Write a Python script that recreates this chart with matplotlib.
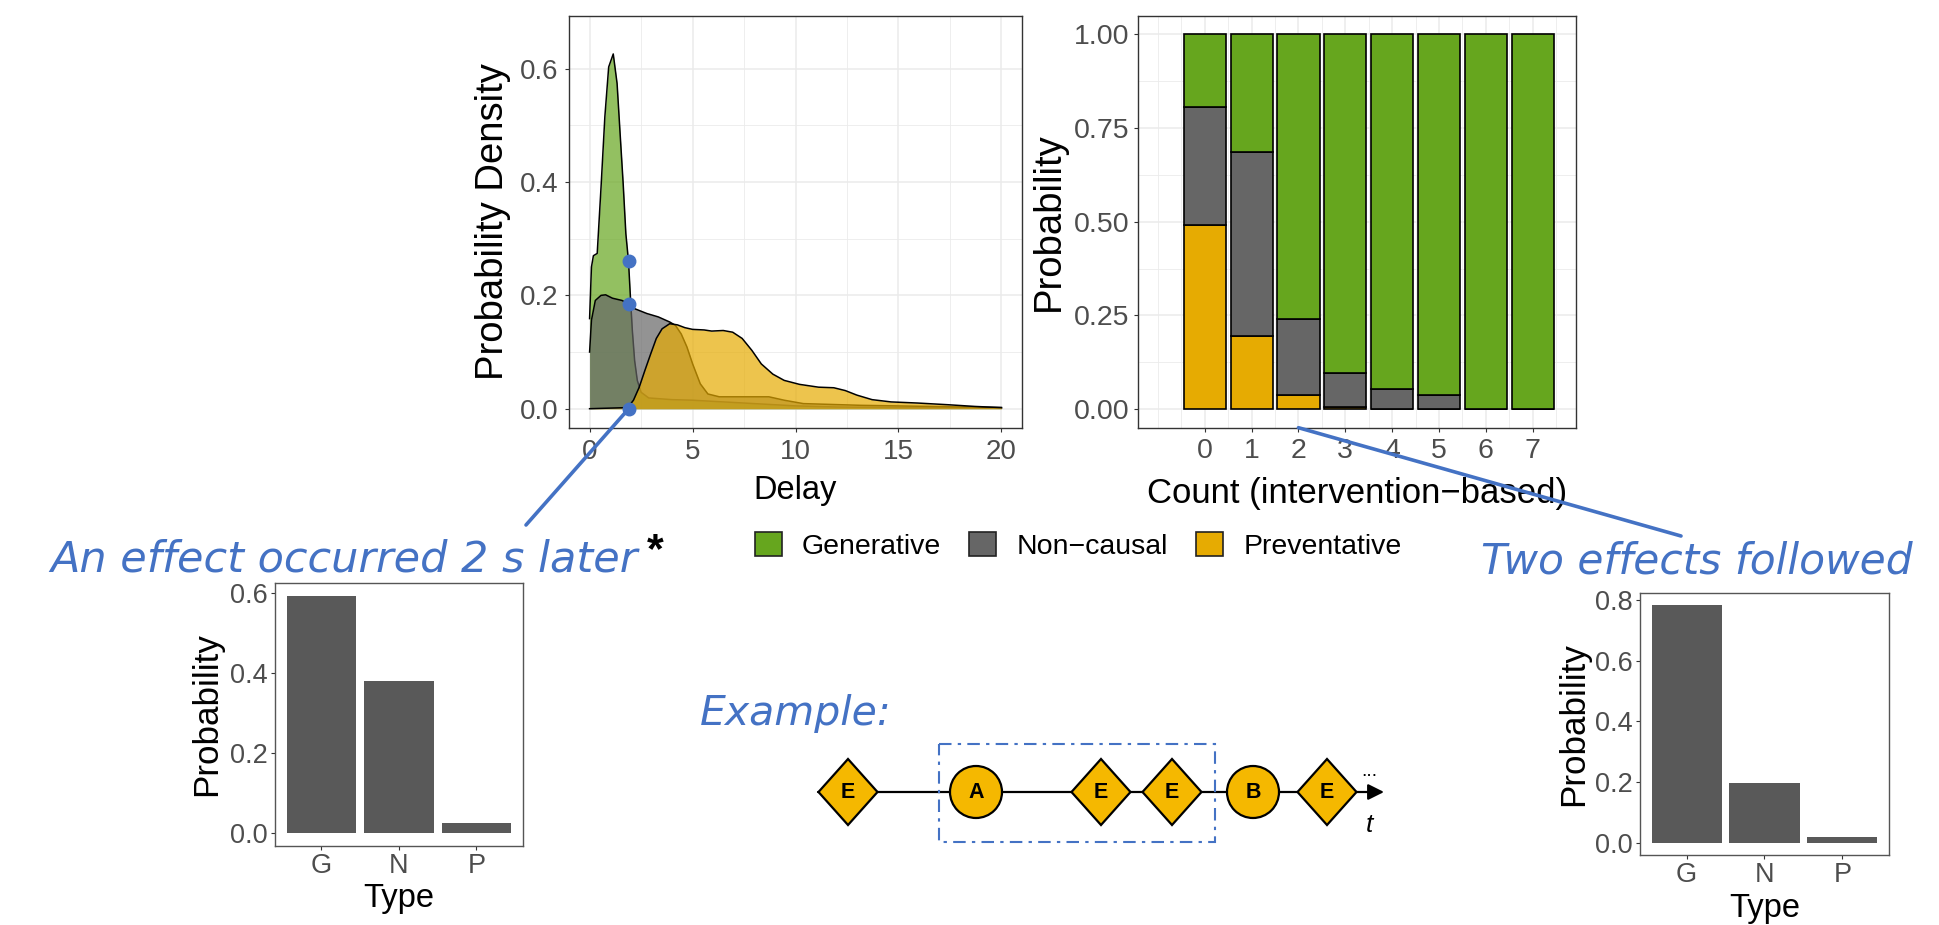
import matplotlib.pyplot as plt
from matplotlib.patches import ConnectionPatch, Polygon, Circle, Rectangle, Patch

W, H = 1940, 925

# ---- data ----
# density of delays (s) per causal type
GEN_X = [0.0, 0.09, 0.185, 0.37, 0.556, 0.741, 0.927, 1.149, 1.335, 1.483, 1.631, 1.761, 1.89,
         1.983, 2.076, 2.187, 2.317, 2.502, 2.873, 4.0, 5.0, 6.0, 7.0, 8.0, 9.0, 10.0, 12.0, 15.0, 20.0]
GEN_Y = [0.159, 0.25, 0.27, 0.274, 0.391, 0.515, 0.603, 0.626, 0.574, 0.485, 0.397, 0.309, 0.26,
         0.197, 0.138, 0.085, 0.05, 0.029, 0.019, 0.016, 0.015, 0.013, 0.011, 0.009, 0.007, 0.005, 0.003, 0.002, 0.001]

NON_X = [0.0, 0.09, 0.278, 0.556, 0.778, 1.112, 1.576, 1.89, 2.224, 2.78, 3.336, 3.892, 4.17, 4.449,
         4.727, 5.005, 5.375, 5.746, 6.3, 7.6, 8.71, 9.45, 10.38, 13.16, 20.0]
NON_Y = [0.1, 0.156, 0.191, 0.2, 0.201, 0.195, 0.191, 0.185, 0.176, 0.168, 0.162, 0.153, 0.147, 0.132,
         0.109, 0.079, 0.044, 0.026, 0.021, 0.021, 0.021, 0.015, 0.009, 0.006, 0.002]

PRE_X = [0.0, 1.85, 2.13, 2.41, 2.69, 2.97, 3.24, 3.52, 3.89, 4.26, 4.63, 5.0, 5.56, 5.93, 6.49, 6.95,
         7.41, 7.88, 8.34, 8.9, 9.45, 10.19, 11.12, 11.86, 12.42, 12.98, 13.72, 14.64, 15.94, 17.42, 18.72, 20.0]
PRE_Y = [0.0, 0.002, 0.015, 0.038, 0.068, 0.097, 0.124, 0.141, 0.15, 0.148, 0.143, 0.14, 0.139, 0.137, 0.138, 0.135,
         0.124, 0.103, 0.079, 0.061, 0.05, 0.043, 0.038, 0.037, 0.032, 0.024, 0.016, 0.012, 0.010, 0.007, 0.004, 0.002]

# the three read-off points at a delay of ~2 s
POINT_X = [1.9, 1.9, 1.9]
POINT_Y = [0.26, 0.185, 0.0]

# stacked probabilities per count
COUNTS = [0, 1, 2, 3, 4, 5, 6, 7]
PROB_PRE = [0.49, 0.195, 0.038, 0.004, 0.0, 0.0, 0.0, 0.0]
PROB_NON = [0.317, 0.49, 0.201, 0.091, 0.053, 0.038, 0.0, 0.0]
PROB_GEN = [0.193, 0.315, 0.761, 0.905, 0.947, 0.962, 1.0, 1.0]

# small posterior panels
TYPES = ["G", "N", "P"]
PROB_DELAY = [0.592, 0.379, 0.025]
PROB_COUNT = [0.782, 0.198, 0.018]

# example sequence
EVENT_LABELS = ["E", "A", "E", "E", "B", "E"]
EVENT_X = [848, 976, 1101, 1172, 1253, 1327]

GREEN, GREY, GOLD = "#66A61E", "#666666", "#E6AB02"
BLUE = "#4472C4"
EVENT_FILL = "#F5B800"
TICK_COL = "#4D4D4D"

plt.rcParams["font.family"] = ["Liberation Sans", "DejaVu Sans"]


def rect(left, top, right, bottom):
    return [left / W, 1 - bottom / H, (right - left) / W, (bottom - top) / H]


def gg_axes(ax, grid=True, border="#333333", pad_x=5, pad_y=4, size=20):
    for s in ax.spines.values():
        s.set_color(border)
        s.set_linewidth(1.0)
    ax.tick_params(which="major", length=2.9, width=0.8, color="#333333",
                   labelcolor=TICK_COL, labelsize=size)
    ax.tick_params(axis="x", pad=pad_x)
    ax.tick_params(axis="y", pad=pad_y)
    ax.tick_params(which="minor", length=0)
    if grid:
        ax.grid(True, which="major", color="#EBEBEB", linewidth=1.1)
        ax.grid(True, which="minor", color="#EBEBEB", linewidth=0.6)
    ax.set_axisbelow(True)


fig = plt.figure(figsize=(W / 100, H / 100), dpi=100)

# ---- density panel ----
ax_d = fig.add_axes(rect(569, 15.7, 1022, 427.7))
for xs, ys, col, z in [(GEN_X, GEN_Y, GREEN, 2), (NON_X, NON_Y, GREY, 3), (PRE_X, PRE_Y, GOLD, 4)]:
    ax_d.fill_between(xs, 0, ys, color=col, alpha=0.7, linewidth=0, zorder=z)
    ax_d.plot(xs, ys, color="black", linewidth=1.1, zorder=z + 0.1)
ax_d.plot(POINT_X, POINT_Y, "o", color=BLUE, markersize=9, zorder=10, clip_on=False)
ax_d.set_xlim(-1, 21)
ax_d.set_ylim(-0.0335, 0.6935)
ax_d.set_xticks([0, 5, 10, 15, 20])
ax_d.set_xticks([2.5, 7.5, 12.5, 17.5], minor=True)
ax_d.set_yticks([0, 0.2, 0.4, 0.6])
ax_d.set_yticklabels(["0.0", "0.2", "0.4", "0.6"])
ax_d.set_yticks([0.1, 0.3, 0.5], minor=True)
gg_axes(ax_d, pad_x=5, pad_y=4.5, size=20)
ax_d.set_xlabel("Delay", fontsize=23.5)
ax_d.set_ylabel("Probability Density", fontsize=27.5)
ax_d.xaxis.set_label_coords(0.5, -0.115)
ax_d.yaxis.set_label_coords(-0.128, 0.5)

# ---- stacked bar panel ----
ax_b = fig.add_axes(rect(1138, 15.7, 1576, 427.7))
bar_kw = dict(width=0.9, edgecolor="black", linewidth=1.2, zorder=3)
ax_b.bar(COUNTS, PROB_PRE, color=GOLD, **bar_kw)
ax_b.bar(COUNTS, PROB_NON, bottom=PROB_PRE, color=GREY, **bar_kw)
ax_b.bar(COUNTS, PROB_GEN, bottom=[p + n for p, n in zip(PROB_PRE, PROB_NON)], color=GREEN, **bar_kw)
ax_b.set_xlim(-1.425, 7.925)
ax_b.set_ylim(-0.05, 1.05)
ax_b.set_xticks(COUNTS)
ax_b.set_xticks([-1, -0.5, 0.5, 1.5, 2.5, 3.5, 4.5, 5.5, 6.5, 7.5], minor=True)
ax_b.set_yticks([0, 0.25, 0.5, 0.75, 1.0])
ax_b.set_yticklabels(["0.00", "0.25", "0.50", "0.75", "1.00"])
ax_b.set_yticks([0.125, 0.375, 0.625, 0.875], minor=True)
gg_axes(ax_b, pad_x=4.5, pad_y=3, size=20.5)
ax_b.set_xlabel("Count (intervention\u2212based)", fontsize=25)
ax_b.set_ylabel("Probability", fontsize=27.5)
ax_b.xaxis.set_label_coords(0.5, -0.119)
ax_b.yaxis.set_label_coords(-0.162, 0.5)

# ---- small posterior panels ----
for box, vals, ylim, yt, lab_x, lab_y in [
        ((275, 583, 523, 846), PROB_DELAY, (-0.0325, 0.625), [0, 0.2, 0.4, 0.6], -0.21, -0.141),
        ((1640, 593, 1889, 855), PROB_COUNT, (-0.04, 0.823), [0, 0.2, 0.4, 0.6, 0.8], -0.20, -0.145)]:
    ax_s = fig.add_axes(rect(*box))
    ax_s.bar(TYPES, vals, width=0.9, color="#595959", zorder=3)
    ax_s.set_xlim(0.4 - 1, 3.6 - 1)
    ax_s.set_ylim(*ylim)
    ax_s.set_yticks(yt)
    ax_s.set_yticklabels([f"{v:.1f}" for v in yt])
    gg_axes(ax_s, grid=False, border="#555555", pad_x=2, pad_y=2.2, size=19.5)
    ax_s.set_xlabel("Type", fontsize=23.5)
    ax_s.set_ylabel("Probability", fontsize=25.2)
    ax_s.xaxis.set_label_coords(0.5, lab_y)
    ax_s.yaxis.set_label_coords(lab_x, 0.5)

# ---- legend ----
handles = [Patch(facecolor=c, edgecolor="#222222", linewidth=1.2, label=l)
           for c, l in [(GREEN, "Generative"), (GREY, "Non\u2212causal"), (GOLD, "Preventative")]]
fig.legend(handles=handles, loc="center", bbox_to_anchor=(1078 / W, 1 - 546 / H), ncol=3,
           frameon=False, fontsize=20.5, handlelength=0.95, handleheight=0.91,
           handletextpad=0.7, columnspacing=1.0, borderpad=0, borderaxespad=0)

# ---- overlay for annotations and the example sequence (pixel coordinates) ----
ov = fig.add_axes([0, 0, 1, 1])
ov.set_xlim(0, W)
ov.set_ylim(H, 0)
ov.axis("off")

hand = dict(color=BLUE, family="DejaVu Sans", style="oblique", va="baseline")
ov.text(50, 572, "An effect occurred 2 s later", fontsize=31, ha="left", **hand)
ov.text(647, 562, "*", fontsize=31, fontweight="bold", color="black", ha="left", va="baseline")
ov.text(1913, 573, "Two effects followed", fontsize=30.5, ha="right", **hand)
ov.text(700, 725, "Example:", fontsize=29.5, ha="left", **hand)

con1 = ConnectionPatch(xyA=(POINT_X[2], POINT_Y[2]), coordsA=ax_d.transData,
                       xyB=(526, 525), coordsB=ov.transData,
                       color=BLUE, linewidth=2.6, shrinkA=4)
con2 = ConnectionPatch(xyA=(COUNTS[2], 0), coordsA=ax_b.get_xaxis_transform(),
                       xyB=(1681, 536), coordsB=ov.transData,
                       color=BLUE, linewidth=2.6)
ov.add_artist(con1)
ov.add_artist(con2)

# time line
line_y = 792
ov.annotate("", xy=(1384, line_y), xytext=(818, line_y),
            arrowprops=dict(arrowstyle="-|>", color="black", lw=1.6, mutation_scale=24,
                            shrinkA=0, shrinkB=0))
for lab, cx in zip(EVENT_LABELS, EVENT_X):
    if lab == "E":
        shape = Polygon([(cx - 29.5, line_y), (cx, line_y - 33), (cx + 29.5, line_y), (cx, line_y + 33)],
                        closed=True, facecolor=EVENT_FILL, edgecolor="black", linewidth=1.6, zorder=3)
    else:
        shape = Circle((cx, line_y), 26, facecolor=EVENT_FILL, edgecolor="black", linewidth=1.6, zorder=3)
    ov.add_patch(shape)
    ov.text(cx, line_y + 1, lab, fontsize=15.5, fontweight="bold", ha="center", va="center", zorder=4)

ov.add_patch(Rectangle((939, 744), 1215 - 939, 842 - 744, fill=False, edgecolor=BLUE,
                       linewidth=1.5, linestyle=(0, (6, 3, 1.6, 3)), zorder=5))
ov.text(1369, 776, "...", fontsize=14, ha="center", va="baseline")
ov.text(1369, 832, "t", fontsize=19, style="italic", ha="center", va="baseline")

fig.savefig("out.png", dpi=100, facecolor="white")
